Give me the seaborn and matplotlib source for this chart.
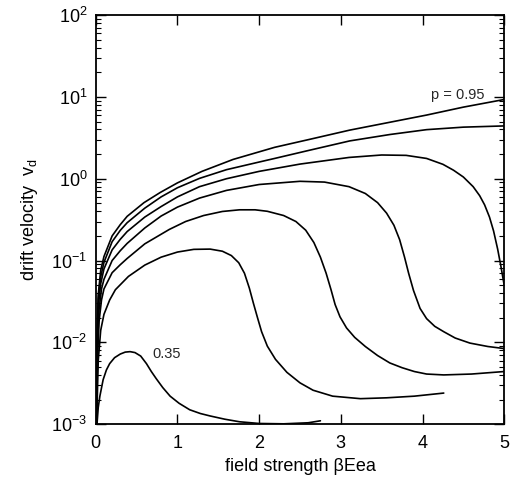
import numpy as np
import pandas as pd
import matplotlib
matplotlib.use("Agg")
import matplotlib.pyplot as plt
import seaborn as sns

# ==========================================
# DATA
# ==========================================
x_095 = [0.005, 0.015, 0.03, 0.06, 0.1, 0.2, 0.3, 0.384, 0.59, 0.79, 1.0, 1.3, 1.68, 2.19, 2.6, 3.11, 3.6, 4.05, 4.5, 5.0]
v_095 = [0.001, 0.011, 0.038, 0.076, 0.112, 0.2, 0.275, 0.347, 0.51, 0.68, 0.89, 1.23, 1.72, 2.42, 3.0, 3.93, 4.9, 6.0, 7.5, 9.3]

x_085 = [0.005, 0.015, 0.03, 0.06, 0.1, 0.2, 0.3, 0.384, 0.6, 0.8, 1.0, 1.27, 1.6, 2.0, 2.19, 2.6, 3.11, 3.6, 4.05, 4.5, 5.0]
v_085 = [0.001, 0.01, 0.034, 0.063, 0.095, 0.17, 0.234, 0.29, 0.437, 0.6, 0.776, 1.01, 1.29, 1.6, 1.77, 2.21, 2.9, 3.47, 3.98, 4.27, 4.42]

x_075 = [0.005, 0.017, 0.035, 0.06, 0.1, 0.2, 0.3, 0.384, 0.6, 0.8, 1.0, 1.27, 1.6, 2.0, 2.5, 3.1, 3.5, 3.8, 4.05,
         4.25, 4.38, 4.5, 4.62, 4.7, 4.76, 4.82, 4.87, 4.92, 4.96, 5.0]
v_075 = [0.001, 0.009, 0.03, 0.052, 0.079, 0.135, 0.182, 0.226, 0.34, 0.457, 0.6, 0.8, 1.0, 1.23, 1.51, 1.82, 1.95, 1.93, 1.77,
         1.5, 1.27, 1.05, 0.8, 0.62, 0.48, 0.34, 0.23, 0.138, 0.085, 0.05]

x_065 = [0.006, 0.02, 0.04, 0.07, 0.1, 0.2, 0.3, 0.384, 0.6, 0.8, 1.0, 1.27, 1.6, 2.0, 2.5, 2.8, 3.1, 3.3, 3.45, 3.56,
         3.65, 3.72, 3.78, 3.83, 3.89, 3.97, 4.05, 4.15, 4.26, 4.4, 4.58, 4.8, 5.0]
v_065 = [0.001, 0.008, 0.025, 0.045, 0.059, 0.1, 0.132, 0.162, 0.25, 0.35, 0.45, 0.58, 0.72, 0.85, 0.93, 0.91, 0.8, 0.66,
         0.51, 0.38, 0.27, 0.18, 0.11, 0.07, 0.043, 0.026, 0.0195, 0.0157, 0.0135, 0.0113, 0.0098, 0.0089, 0.0084]

x_055 = [0.007, 0.02, 0.04, 0.07, 0.1, 0.2, 0.3, 0.384, 0.6, 0.9, 1.1, 1.32, 1.55, 1.76, 1.95, 2.1, 2.3, 2.45, 2.57, 2.67,
         2.75, 2.82, 2.88, 2.93, 2.99, 3.07, 3.17, 3.3, 3.45, 3.6, 3.75, 3.9, 4.05, 4.26, 4.6, 5.0]
v_055 = [0.001, 0.006, 0.018, 0.033, 0.045, 0.071, 0.089, 0.106, 0.16, 0.24, 0.30, 0.355, 0.398, 0.417, 0.417, 0.4, 0.355,
         0.3, 0.235, 0.166, 0.11, 0.07, 0.044, 0.029, 0.0205, 0.015, 0.0115, 0.0089, 0.0069, 0.0056, 0.0049, 0.0044,
         0.0041, 0.004, 0.0041, 0.0044]

x_045 = [0.01, 0.03, 0.06, 0.1, 0.17, 0.24, 0.4, 0.6, 0.8, 1.0, 1.2, 1.4, 1.55, 1.66, 1.75, 1.82, 1.88, 1.93, 1.98,
         2.03, 2.1, 2.2, 2.34, 2.5, 2.66, 2.9, 3.24, 3.56, 3.9, 4.26]
v_045 = [0.001, 0.006, 0.014, 0.022, 0.033, 0.044, 0.064, 0.088, 0.11, 0.127, 0.137, 0.138, 0.13, 0.115, 0.094, 0.07,
         0.046, 0.03, 0.02, 0.0135, 0.009, 0.0062, 0.0043, 0.0032, 0.0026, 0.0022, 0.00205, 0.0021, 0.0022, 0.0024]

x_035 = [0.016, 0.03, 0.05, 0.09, 0.13, 0.17, 0.23, 0.3, 0.36, 0.42, 0.48, 0.55, 0.62, 0.68, 0.74, 0.82, 0.91, 1.02,
         1.15, 1.28, 1.4, 1.58, 1.76, 2.0, 2.3, 2.6, 2.75]
v_035 = [0.00104, 0.0016, 0.0022, 0.0035, 0.0046, 0.0055, 0.0065, 0.0072, 0.0076, 0.0077, 0.0075, 0.0068, 0.0055,
         0.0044, 0.0036, 0.0028, 0.0022, 0.0018, 0.0015, 0.00135, 0.00126, 0.00115, 0.00107, 0.00102, 0.00101,
         0.00104, 0.0011]

curves = {
    "0.35": (x_035, v_035),
    "0.45": (x_045, v_045),
    "0.55": (x_055, v_055),
    "0.65": (x_065, v_065),
    "0.75": (x_075, v_075),
    "0.85": (x_085, v_085),
    "0.95": (x_095, v_095),
}

df = pd.concat(
    [pd.DataFrame({"E": xs, "vd": vs, "p": p}) for p, (xs, vs) in curves.items()],
    ignore_index=True,
)

# ==========================================
# PLOT
# ==========================================
sns.set_theme(style="ticks")
plt.rcParams["font.family"] = ["Liberation Sans", "DejaVu Sans"]
plt.rcParams["mathtext.fontset"] = "custom"
plt.rcParams["mathtext.rm"] = "Liberation Sans"
plt.rcParams["mathtext.it"] = "Liberation Sans"
plt.rcParams["axes.unicode_minus"] = False

fig = plt.figure(figsize=(5.15, 4.87), dpi=100)
ax = fig.add_axes([0.186, 0.129, 0.793, 0.840])

sns.lineplot(data=df, x="E", y="vd", hue="p", units="p", estimator=None, sort=False,
             palette=["black"] * len(curves), linewidth=1.2, legend=False, ax=ax)

ax.set_yscale("log")
ax.set_xlim(0, 5)
ax.set_ylim(1e-3, 1e2)
ax.set_xticks([0, 1, 2, 3, 4, 5])
ax.set_xticklabels(["0", "1", "2", "3", "4", "5"])
ax.xaxis.set_minor_locator(matplotlib.ticker.NullLocator())

ax.tick_params(which="both", direction="in", top=True, right=True, colors="black", labelsize=13)
ax.tick_params(which="major", length=7, width=1.0)
ax.tick_params(which="minor", length=3.5, width=0.8)
ax.tick_params(axis="x", pad=8)
ax.tick_params(axis="y", pad=6)
for s in ax.spines.values():
    s.set_color("black")
    s.set_linewidth(1.3)

ax.set_xlabel("field strength \u03b2Eea", fontsize=13, color="black", labelpad=4)
ax.set_ylabel("drift velocity  $\\mathregular{v_d}$", fontsize=13, color="black", labelpad=8)

ax.text(4.43, 10.5, "p = 0.95", fontsize=10.5, ha="center", va="center")
ax.text(0.87, 0.0073, "0.35", fontsize=10.5, ha="center", va="center")

fig.savefig("out.png", dpi=100, facecolor="white")
